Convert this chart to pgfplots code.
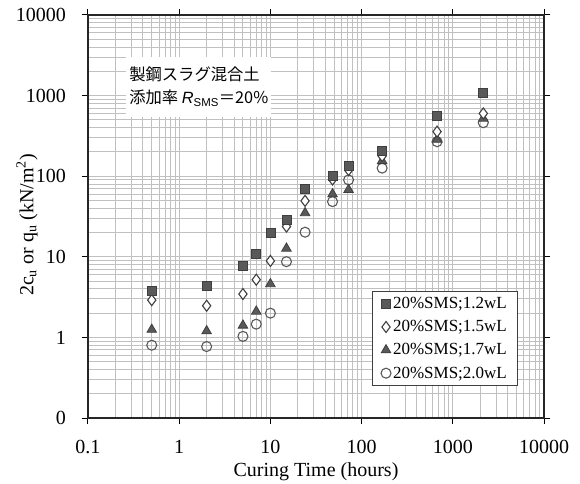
\documentclass[border=0pt]{standalone}
\usepackage{fontspec}
\usepackage{pgfplots}
\pgfplotsset{compat=1.18}
\setmainfont{Liberation Serif}
\newfontfamily\jp{Noto Sans CJK JP}
\newfontfamily\lsans{Liberation Sans}
\definecolor{mk}{HTML}{595959}
\definecolor{mkd}{HTML}{3F3F3F}
\definecolor{gr}{HTML}{C0C0C0}
\begin{document}
\begin{tikzpicture}
\useasboundingbox (-88pt,-65pt) rectangle (492pt,418pt);
\begin{axis}[
  scale only axis, width=456pt, height=403pt,
  xmode=log, ymode=log,
  xmin=0.1, xmax=10000, ymin=0.1, ymax=10000,
  xtick={0.1,1,10,100,1000,10000},
  xticklabels={0.1,1,10,100,1000,10000},
  ytick={0.1,1,10,100,1000,10000},
  yticklabels={0,1,10,100,1000,10000},
  grid=both,
  major grid style={gr, line width=0.9pt},
  minor grid style={gr, line width=0.9pt},
  tick align=outside, major tick length=6pt, minor tick length=0pt,
  tick style={black, line width=1pt},
  axis line style={black!85, line width=1.4pt},
  ticklabel style={font=\fontsize{20}{24}\selectfont},
  xticklabel style={anchor=base, yshift=-30pt, inner sep=0pt},
  yticklabel style={anchor=east, xshift=-16pt, inner sep=0pt},
  xlabel={Curing Time (hours)},
  ylabel={2c\textsubscript{u} or q\textsubscript{u} (kN/m\textsuperscript{2})},
  label style={font=\fontsize{20}{24}\selectfont},
  xlabel style={at={(axis description cs:0.5,0)}, anchor=base, yshift=-58pt},
  ylabel style={at={(axis description cs:0,0.479)}, anchor=center, rotate=0, yshift=61pt},
  reverse legend,
  legend cell align=left,
  legend style={at={(rel axis cs:0.622,0.315)}, anchor=north west,
    draw=black!75, line width=0.8pt,
    inner xsep=9pt, inner ysep=4pt, row sep=6.3pt,
    nodes={font=\fontsize{17}{20}\selectfont, inner xsep=2pt},
    /tikz/every even column/.append style={column sep=0pt}},
]
% 2.0wL
\addplot[only marks, mark=o, mark size=5pt, mark options={draw=mk, fill=white, line width=1.1pt}]
 coordinates {(0.5,0.8) (2,0.77) (5,1.03) (7,1.46) (10,2.0) (15,8.7) (24,20.2) (48,48.4) (72,90) (168,126) (672,268) (2160,461)};
\addlegendentry{20\%SMS;2.0wL}
% 1.7wL
\addplot[only marks, mark=triangle*, mark size=5.5pt, mark options={draw=mkd, fill=mk, line width=0.8pt}]
 coordinates {(0.5,1.25) (2,1.2) (5,1.41) (7,2.1) (10,4.6) (15,12.7) (24,35) (48,60) (72,68) (168,155) (672,285) (2160,520)};
\addlegendentry{20\%SMS;1.7wL}
% 1.5wL
\addplot[only marks, mark=diamond*, mark size=5.5pt, mark options={draw=mkd, fill=white, line width=1.1pt}]
 coordinates {(0.5,2.9) (2,2.47) (5,3.45) (7,5.2) (10,8.9) (15,23.7) (24,49.4) (48,91) (72,119) (168,178) (672,357) (2160,600)};
\addlegendentry{20\%SMS;1.5wL}
% 1.2wL
\addplot[only marks, mark=square*, mark size=4.5pt, mark options={draw=mkd, fill=mk, line width=0.8pt}]
 coordinates {(0.5,3.8) (2,4.4) (5,7.8) (7,11.0) (10,19.7) (15,28.7) (24,70) (48,101) (72,133) (168,204) (672,555) (2160,1067)};
\addlegendentry{20\%SMS;1.2wL}
\node[fill=white, inner sep=0pt, minimum width=145pt, minimum height=60pt, align=left,
  font=\fontsize{16.3}{23}\selectfont\jp] at (rel axis cs:0.243,0.822)
  {製鋼スラグ混合土\\添加率 {\lsans\itshape R}\textsubscript{\lsans SMS}＝20\%};
\end{axis}
\end{tikzpicture}
\end{document}
